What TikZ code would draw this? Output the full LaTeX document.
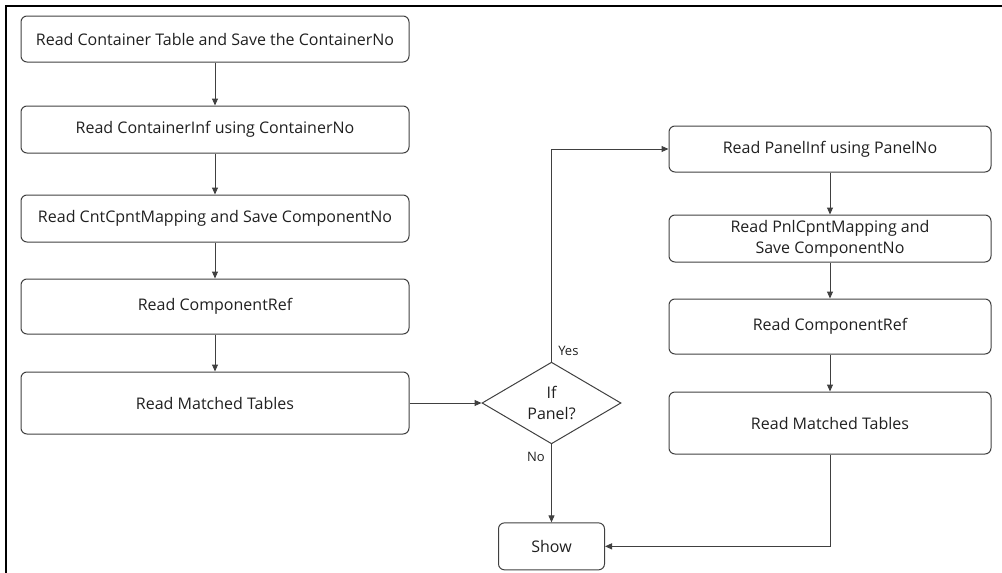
\documentclass[tikz,border=0pt]{standalone}
\usepackage{fontspec}
\setmainfont{Open Sans}
\usepackage{tikz}
\usetikzlibrary{positioning, shapes.geometric, arrows.meta}
\definecolor{linegray}{HTML}{404040}
\definecolor{textgray}{HTML}{202020}
\tikzset{
    x=1pt, y=-1pt, % one unit is one pixel of the layout
    >={Triangle[length=7pt, width=6pt]}, % small filled heads
    every node/.style={font=\fontsize{16}{21}\selectfont, text=textgray},
    process/.style={draw=linegray, line width=1pt, rounded corners=6pt,
        minimum width=388pt, minimum height=47pt, align=center, inner sep=0pt},
    subprocess/.style={process, minimum width=322pt},
    decision/.style={draw=linegray, line width=1pt, diamond, minimum width=139pt,
        minimum height=74pt, align=center, inner sep=0pt},
    flow/.style={->, draw=linegray, line width=1pt},
    tag/.style={font=\fontsize{13}{15}\selectfont},
}
\begin{document}
\begin{tikzpicture}
    \useasboundingbox (0,0) rectangle (1002,573);
    % frame
    \draw[line width=2pt] (6,573) -- (6,6) -- (1002,6);
    % main column
    \node[process, minimum height=46pt] (cont) at (215,39) {Read Container Table and Save the ContainerNo};
    \node[process, below=43pt of cont] (continf) {Read ContainerInf using ContainerNo};
    \node[process, below=41pt of continf] (cntmap) {Read CntCpntMapping and Save ComponentNo};
    \node[process, minimum height=55pt, below=36pt of cntmap] (cref) {Read ComponentRef};
    \node[process, minimum height=62pt, below=37pt of cref] (ctab) {Read Matched Tables};
    % decision and end
    \node[decision, right=72pt of ctab] (ispanel) {If\\Panel?};
    \node[process, minimum width=106pt, below=78pt of ispanel] (show) {Show};
    % panel column
    \node[subprocess, minimum height=46pt] (pinf) at (830,149) {Read PanelInf using PanelNo};
    \node[subprocess, below=42pt of pinf] (pnlmap) {Read PnlCpntMapping and\\Save ComponentNo};
    \node[subprocess, minimum height=55pt, below=36pt of pnlmap] (pref) {Read ComponentRef};
    \node[subprocess, minimum height=62pt, below=37pt of pref] (ptab) {Read Matched Tables};
    % connectors
    \draw[flow] (cont) -- (continf);
    \draw[flow] (continf) -- (cntmap);
    \draw[flow] (cntmap) -- (cref);
    \draw[flow] (cref) -- (ctab);
    \draw[flow] (ctab) -- (ispanel);
    \draw[flow] (ispanel.north) |- node[tag, pos=0.025, right, xshift=3pt] {Yes} (pinf.west);
    \draw[flow] (ispanel) -- node[tag, pos=0.16, left, xshift=-3pt] {No} (show);
    \draw[flow] (pinf) -- (pnlmap);
    \draw[flow] (pnlmap) -- (pref);
    \draw[flow] (pref) -- (ptab);
    \draw[flow] (ptab.south) |- (show.east);
\end{tikzpicture}
\end{document}
